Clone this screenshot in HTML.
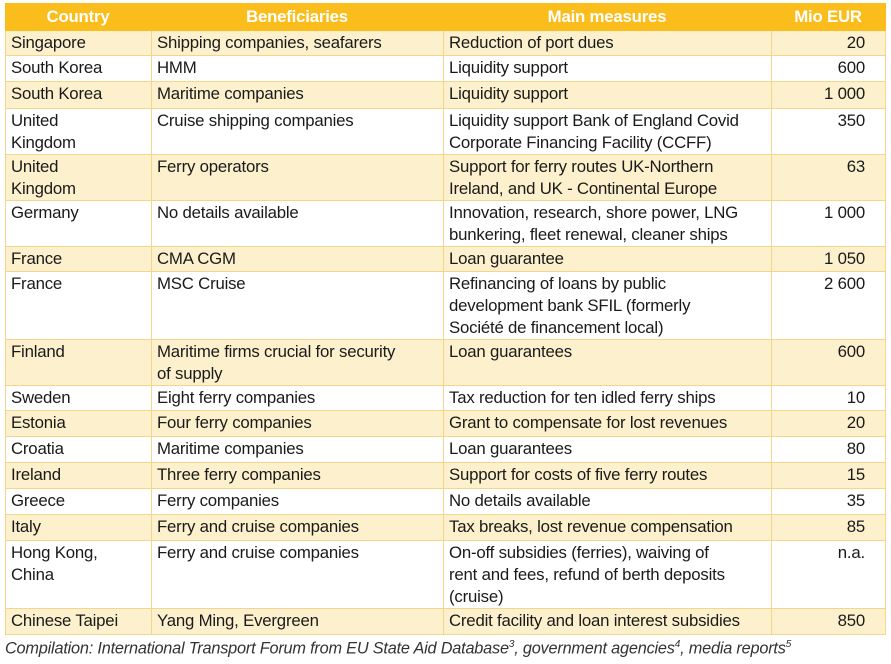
<!DOCTYPE html>
<html><head><meta charset="utf-8"><style>
html,body{margin:0;padding:0;background:#fff;width:891px;height:664px;overflow:hidden}
body{font-family:"Liberation Sans",sans-serif;font-size:16.8px;color:#1a1a1a}
table{position:absolute;left:5px;top:3px;border-collapse:collapse;table-layout:fixed;width:880px}
td,th{border:1px solid #f3d58c;padding:1px 6px 0 5px;vertical-align:top;line-height:22px;overflow:hidden;white-space:nowrap;letter-spacing:-0.2px}
th{background:#fbbd1b;color:#fff;font-weight:bold;text-align:center;height:26px;border-color:#fbbd1b;vertical-align:middle;padding-top:0}
tr.c td{background:#fdf1cd}
td.n{text-align:right;padding-right:20px}
.cap{position:absolute;left:5px;top:639px;font-style:italic;font-size:16.3px;color:#333;white-space:nowrap;letter-spacing:-0.2px}
sup{font-size:10px}
</style></head><body>
<table>
<colgroup><col style="width:146px"><col style="width:292px"><col style="width:328px"><col style="width:114px"></colgroup>
<tr><th>Country</th><th>Beneficiaries</th><th>Main measures</th><th>Mio EUR</th></tr>
<tr class="c" style="height:25px"><td>Singapore</td><td>Shipping companies, seafarers</td><td>Reduction of port dues</td><td class="n">20</td></tr>
<tr style="height:26px"><td>South Korea</td><td>HMM</td><td>Liquidity support</td><td class="n">600</td></tr>
<tr class="c" style="height:27px"><td>South Korea</td><td>Maritime companies</td><td>Liquidity support</td><td class="n">1 000</td></tr>
<tr style="height:46px"><td>United<br>Kingdom</td><td>Cruise shipping companies</td><td>Liquidity support Bank of England Covid<br>Corporate Financing Facility (CCFF)</td><td class="n">350</td></tr>
<tr class="c" style="height:46px"><td>United<br>Kingdom</td><td>Ferry operators</td><td>Support for ferry routes UK-Northern<br>Ireland, and UK - Continental Europe</td><td class="n">63</td></tr>
<tr style="height:46px"><td>Germany</td><td>No details available</td><td>Innovation, research, shore power, LNG<br>bunkering, fleet renewal, cleaner ships</td><td class="n">1 000</td></tr>
<tr class="c" style="height:25px"><td>France</td><td>CMA CGM</td><td>Loan guarantee</td><td class="n">1 050</td></tr>
<tr style="height:68px"><td>France</td><td>MSC Cruise</td><td>Refinancing of loans by public<br>development bank SFIL (formerly<br>Société de financement local)</td><td class="n">2 600</td></tr>
<tr class="c" style="height:45px"><td>Finland</td><td>Maritime firms crucial for security<br>of supply</td><td>Loan guarantees</td><td class="n">600</td></tr>
<tr style="height:25px"><td>Sweden</td><td>Eight ferry companies</td><td>Tax reduction for ten idled ferry ships</td><td class="n">10</td></tr>
<tr class="c" style="height:26px"><td>Estonia</td><td>Four ferry companies</td><td>Grant to compensate for lost revenues</td><td class="n">20</td></tr>
<tr style="height:26px"><td>Croatia</td><td>Maritime companies</td><td>Loan guarantees</td><td class="n">80</td></tr>
<tr class="c" style="height:26px"><td>Ireland</td><td>Three ferry companies</td><td>Support for costs of five ferry routes</td><td class="n">15</td></tr>
<tr style="height:26px"><td>Greece</td><td>Ferry companies</td><td>No details available</td><td class="n">35</td></tr>
<tr class="c" style="height:26px"><td>Italy</td><td>Ferry and cruise companies</td><td>Tax breaks, lost revenue compensation</td><td class="n">85</td></tr>
<tr style="height:68px"><td>Hong Kong,<br>China</td><td>Ferry and cruise companies</td><td>On-off subsidies (ferries), waiving of<br>rent and fees, refund of berth deposits<br>(cruise)</td><td class="n">n.a.</td></tr>
<tr class="c" style="height:26px"><td>Chinese Taipei</td><td>Yang Ming, Evergreen</td><td>Credit facility and loan interest subsidies</td><td class="n">850</td></tr>
</table>
<div class="cap">Compilation: International Transport Forum from EU State Aid Database<sup>3</sup>, government agencies<sup>4</sup>, media reports<sup>5</sup></div>
</body></html>
